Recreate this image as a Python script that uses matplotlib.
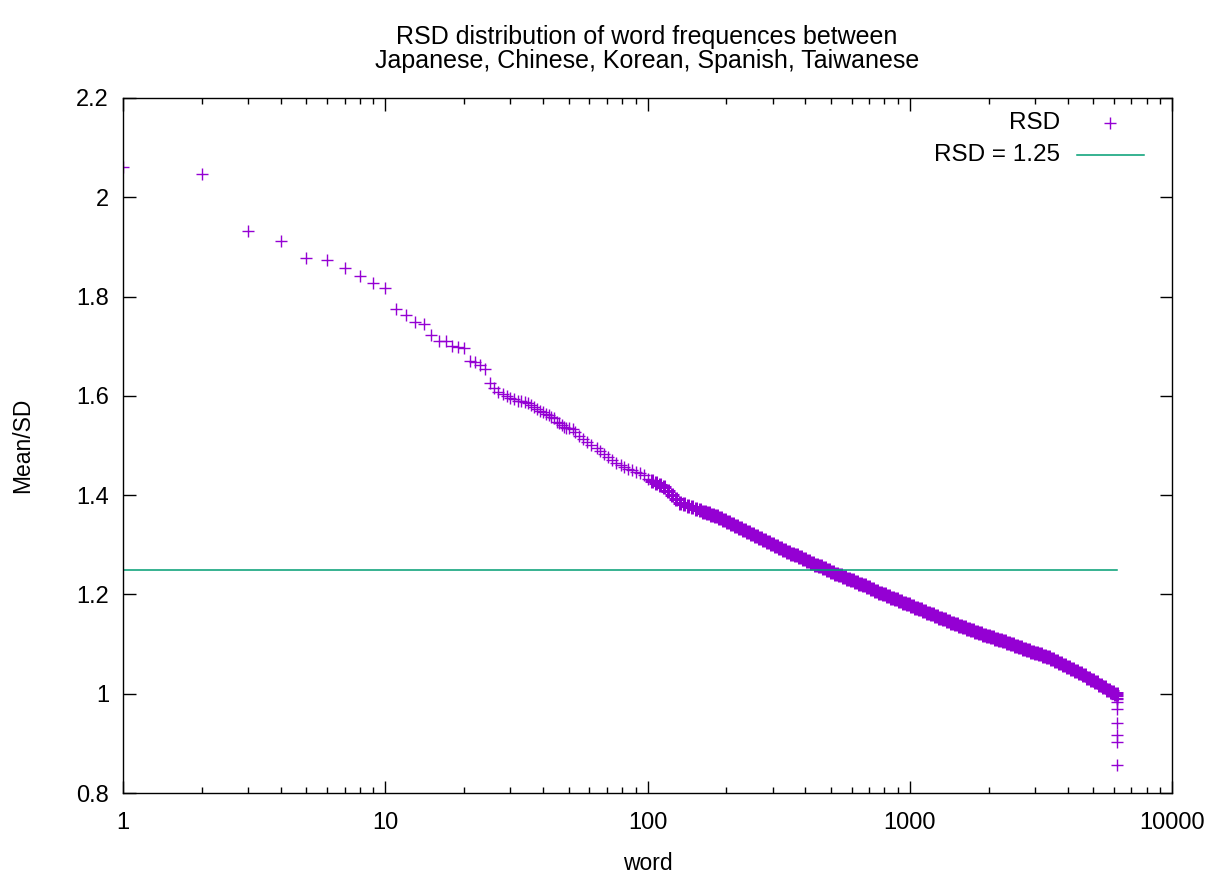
import matplotlib
matplotlib.use('Agg')
import matplotlib.pyplot as plt
from matplotlib.ticker import FixedLocator, FixedFormatter, LogLocator, NullFormatter

plt.rcParams['font.family'] = ['Liberation Sans', 'DejaVu Sans']

# word rank vs RSD
head_rank = list(range(1, 51))
head_rsd = [2.062, 2.047, 1.932, 1.912, 1.877, 1.874, 1.857, 1.841, 1.828, 1.817,
            1.774, 1.762, 1.749, 1.745, 1.722, 1.711, 1.710, 1.700, 1.698, 1.696,
            1.671, 1.669, 1.662, 1.654, 1.625, 1.615, 1.608, 1.603, 1.600, 1.596,
            1.593, 1.590, 1.589, 1.588, 1.585, 1.581, 1.578, 1.573, 1.570, 1.568,
            1.564, 1.561, 1.557, 1.555, 1.547, 1.545, 1.541, 1.538, 1.536, 1.535]

body_rank = [52, 53, 55, 57, 59, 61, 64, 66, 68, 71,
             73, 76, 79, 81, 84, 87, 90, 94, 97, 100,
             104, 108, 112, 116, 120, 124, 128, 133, 138, 143,
             148, 153, 158, 164, 170, 176, 182, 189, 196, 203,
             210, 217, 225, 233, 241, 250, 259, 268, 278, 288,
             298, 309, 320, 331, 343, 355, 368, 381, 395, 409,
             423, 439, 454, 470, 487, 505, 523, 541, 561, 581,
             602, 623, 645, 668, 692, 717, 743, 769, 797, 825,
             855, 885, 917, 950, 983, 1019, 1055, 1093, 1132, 1172,
             1214, 1257, 1302, 1349, 1397, 1447, 1499, 1552, 1608, 1665,
             1725, 1786, 1850, 1916, 1985, 2056, 2129, 2205, 2284, 2366,
             2450, 2538, 2628, 2722, 2819, 2920, 3025, 3133, 3245, 3360,
             3481, 3605, 3734, 3867, 4005, 4148, 4297, 4450, 4609, 4774,
             4944, 5121, 5304, 5493, 5690, 5893, 6103]
body_rsd = [1.534, 1.527, 1.519, 1.513, 1.507, 1.501, 1.495, 1.489, 1.483, 1.477,
            1.471, 1.465, 1.460, 1.456, 1.453, 1.450, 1.447, 1.444, 1.440, 1.433,
            1.428, 1.425, 1.421, 1.416, 1.409, 1.400, 1.392, 1.385, 1.382, 1.379,
            1.376, 1.373, 1.370, 1.367, 1.364, 1.361, 1.357, 1.353, 1.349, 1.345,
            1.341, 1.337, 1.333, 1.329, 1.325, 1.321, 1.317, 1.313, 1.309, 1.305,
            1.301, 1.297, 1.293, 1.289, 1.286, 1.282, 1.279, 1.275, 1.271, 1.268,
            1.264, 1.260, 1.257, 1.253, 1.249, 1.246, 1.242, 1.239, 1.236, 1.232,
            1.229, 1.225, 1.222, 1.218, 1.214, 1.210, 1.207, 1.203, 1.200, 1.197,
            1.193, 1.190, 1.187, 1.183, 1.180, 1.176, 1.173, 1.170, 1.166, 1.163,
            1.160, 1.156, 1.153, 1.150, 1.146, 1.143, 1.140, 1.137, 1.134, 1.131,
            1.128, 1.125, 1.122, 1.119, 1.116, 1.114, 1.111, 1.108, 1.106, 1.103,
            1.100, 1.097, 1.094, 1.091, 1.088, 1.085, 1.082, 1.079, 1.076, 1.073,
            1.069, 1.065, 1.061, 1.057, 1.053, 1.049, 1.045, 1.041, 1.037, 1.032,
            1.028, 1.023, 1.018, 1.013, 1.008, 1.003, 0.999]

tail_rank = [6140, 6144, 6145, 6146, 6147, 6148, 6149, 6150, 6151]
tail_rsd = [0.997, 0.992, 0.989, 0.983, 0.969, 0.942, 0.916, 0.903, 0.856]

threshold = 1.25

x_ticks = [1, 10, 100, 1000, 10000]
x_labels = ['1', '10', '100', '1000', '10000']
y_ticks = [0.8, 1.0, 1.2, 1.4, 1.6, 1.8, 2.0, 2.2]
y_labels = ['0.8', '1', '1.2', '1.4', '1.6', '1.8', '2', '2.2']

purple = '#9400d3'
green = '#009e73'

# the dense part of the curve is a solid band of overlapping crosses
# in the reference, so draw those crosses with heavier strokes
comb_end = 20
mid_end = 33
comb_rank = head_rank + body_rank[:comb_end]
comb_rsd = head_rsd + body_rsd[:comb_end]

fig = plt.figure(figsize=(12.23, 8.82), dpi=100)
ax = fig.add_axes([123 / 1223, 1 - 793 / 882, 1049 / 1223, 695 / 882])

ax.plot(comb_rank, comb_rsd, linestyle='none', marker='+', markersize=9,
        markeredgewidth=1.0, color=purple)
ax.plot(body_rank[comb_end:mid_end], body_rsd[comb_end:mid_end], linestyle='none',
        marker='+', markersize=9.5, markeredgewidth=2.2, color=purple)
ax.plot(body_rank[mid_end:], body_rsd[mid_end:], linestyle='none', marker='+',
        markersize=10, markeredgewidth=3.6, color=purple)
ax.plot(tail_rank, tail_rsd, linestyle='none', marker='+', markersize=9,
        markeredgewidth=1.0, color=purple)
ax.plot([head_rank[0], tail_rank[-1]], [threshold, threshold], color=green, linewidth=1.1)

ax.set_xscale('log')
ax.set_xlim(1, 10000)
ax.set_ylim(0.8, 2.2)
ax.xaxis.set_major_locator(FixedLocator(x_ticks))
ax.xaxis.set_major_formatter(FixedFormatter(x_labels))
ax.xaxis.set_minor_locator(LogLocator(base=10, subs=range(2, 10)))
ax.xaxis.set_minor_formatter(NullFormatter())
ax.yaxis.set_major_locator(FixedLocator(y_ticks))
ax.yaxis.set_major_formatter(FixedFormatter(y_labels))

ax.tick_params(which='both', direction='in', top=True, right=True, labelsize=17, width=1.0)
ax.tick_params(which='major', length=9)
ax.tick_params(which='minor', length=4.5)
ax.tick_params(axis='x', pad=14)
ax.tick_params(axis='y', pad=10)
for s in ax.spines.values():
    s.set_linewidth(1.0)

ax.set_xlabel('word', fontsize=16.5, labelpad=13)
ax.set_ylabel('Mean/SD', fontsize=16.5, labelpad=30)
fig.text(647 / 1223, 1 - 37 / 882, 'RSD distribution of word frequences between',
         ha='center', va='center', fontsize=18)
fig.text(647 / 1223, 1 - 61 / 882, 'Japanese, Chinese, Korean, Spanish, Taiwanese',
         ha='center', va='center', fontsize=18)

# gnuplot style key: right aligned text, sample on the right
ax.text(0.893, 0.964, 'RSD', transform=ax.transAxes, ha='right', va='center', fontsize=17.5)
ax.plot([0.941], [0.964], transform=ax.transAxes, marker='+', markersize=9,
        markeredgewidth=1.0, color=purple, linestyle='none')
ax.text(0.893, 0.918, 'RSD = 1.25', transform=ax.transAxes, ha='right', va='center', fontsize=17.5)
ax.plot([0.909, 0.973], [0.918, 0.918], transform=ax.transAxes, color=green, linewidth=1.1)

fig.savefig('out.png', dpi=100)
